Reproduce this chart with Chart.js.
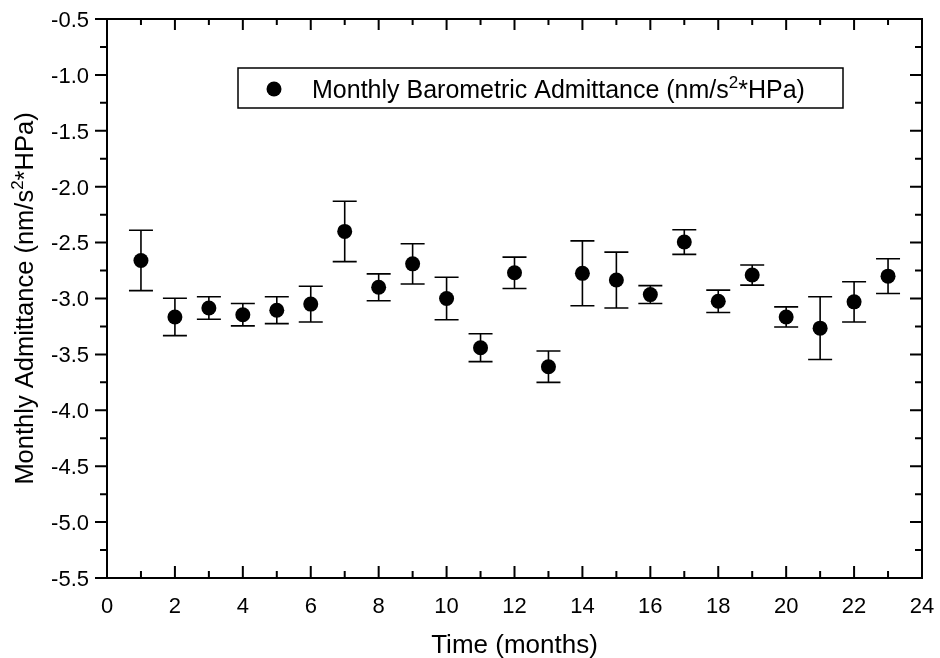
<!DOCTYPE html>
<html>
<head>
<meta charset="utf-8">
<title>Monthly Barometric Admittance</title>
<script src="https://cdn.jsdelivr.net/npm/chart.js@4.4.0/dist/chart.umd.min.js"></script>
<style>
  html, body { margin: 0; padding: 0; background: #fff; }
  #wrap { width: 940px; height: 658px; }
</style>
</head>
<body>
<div id="wrap"><canvas id="chart" width="940" height="658"></canvas></div>
<script>
  // --- data ---
  var months = [1, 2, 3, 4, 5, 6, 7, 8, 9, 10, 11, 12, 13, 14, 15, 16, 17, 18, 19, 20, 21, 22, 23];
  var admittance = [-2.66, -3.165, -3.085, -3.145, -3.105, -3.05, -2.40, -2.90, -2.69, -3.00, -3.44, -2.77,
                    -3.61, -2.775, -2.835, -2.965, -2.495, -3.025, -2.79, -3.165, -3.265, -3.03, -2.80];
  var errors = [0.27, 0.167, 0.10, 0.10, 0.12, 0.16, 0.27, 0.12, 0.18, 0.19, 0.125, 0.14,
                0.14, 0.29, 0.25, 0.08, 0.11, 0.10, 0.09, 0.09, 0.28, 0.18, 0.155];

  var xTicks = [0, 2, 4, 6, 8, 10, 12, 14, 16, 18, 20, 22, 24];
  var xMinorTicks = [1, 3, 5, 7, 9, 11, 13, 15, 17, 19, 21, 23];
  var yTicks = [-0.5, -1.0, -1.5, -2.0, -2.5, -3.0, -3.5, -4.0, -4.5, -5.0, -5.5];
  var yTickLabels = ['-0.5', '-1.0', '-1.5', '-2.0', '-2.5', '-3.0', '-3.5', '-4.0', '-4.5', '-5.0', '-5.5'];
  var yMinorTicks = [-0.75, -1.25, -1.75, -2.25, -2.75, -3.25, -3.75, -4.25, -4.75, -5.25];

  var xTitle = 'Time (months)';
  var yTitleParts = ['Monthly Admittance (nm/s', '2', '*HPa)'];
  var legendParts = ['Monthly Barometric Admittance (nm/s', '2', '*HPa)'];

  var FONT = '"Liberation Sans", Arial, Helvetica, sans-serif';
  var INK = '#000';

  // label centred on the caps at (x, y)
  function tickText(ctx, str, x, y, size, align) {
    ctx.font = size + 'px ' + FONT;
    ctx.textAlign = align;
    ctx.textBaseline = 'alphabetic';
    ctx.fillText(str, x, y + size * 0.358);
  }

  // text with a superscript middle part
  function superText(ctx, parts, x, y, size, align) {
    var supSize = Math.round(size * 0.66);
    var sizes = [size, supSize, size];
    var widths = [];
    var total = 0;
    parts.forEach(function (p, i) {
      ctx.font = sizes[i] + 'px ' + FONT;
      widths[i] = ctx.measureText(p).width;
      total += widths[i];
    });
    var cx = align === 'center' ? x - total / 2 : x;
    ctx.textAlign = 'left';
    ctx.textBaseline = 'alphabetic';
    parts.forEach(function (p, i) {
      ctx.font = sizes[i] + 'px ' + FONT;
      ctx.fillText(p, cx, i === 1 ? y - size * 0.4 : y);
      cx += widths[i];
    });
  }

  var errorBars = {
    id: 'errorBars',
    beforeDatasetsDraw: function (chart) {
      var ctx = chart.ctx;
      var xs = chart.scales.x, ys = chart.scales.y;
      ctx.save();
      ctx.strokeStyle = INK;
      ctx.lineWidth = 1.6;
      months.forEach(function (m, i) {
        var px = xs.getPixelForValue(m);
        var top = ys.getPixelForValue(admittance[i] + errors[i]);
        var bot = ys.getPixelForValue(admittance[i] - errors[i]);
        ctx.beginPath();
        ctx.moveTo(px, top); ctx.lineTo(px, bot);
        ctx.moveTo(px - 12, top); ctx.lineTo(px + 12, top);
        ctx.moveTo(px - 12, bot); ctx.lineTo(px + 12, bot);
        ctx.stroke();
      });
      ctx.restore();
    }
  };

  var frame = {
    id: 'frame',
    afterDraw: function (chart) {
      var ctx = chart.ctx;
      var a = chart.chartArea;
      var xs = chart.scales.x, ys = chart.scales.y;
      ctx.save();
      ctx.strokeStyle = INK;
      ctx.fillStyle = INK;

      // box around plot
      ctx.lineWidth = 2;
      ctx.strokeRect(a.left, a.top, a.right - a.left, a.bottom - a.top);

      // ticks: left outward, others inward
      ctx.beginPath();
      yTicks.forEach(function (v) {
        var py = ys.getPixelForValue(v);
        ctx.moveTo(a.left - 12, py); ctx.lineTo(a.left, py);
        ctx.moveTo(a.right, py); ctx.lineTo(a.right - 12, py);
      });
      yMinorTicks.forEach(function (v) {
        var py = ys.getPixelForValue(v);
        ctx.moveTo(a.left - 7, py); ctx.lineTo(a.left, py);
        ctx.moveTo(a.right, py); ctx.lineTo(a.right - 7, py);
      });
      xTicks.forEach(function (v) {
        var px = xs.getPixelForValue(v);
        ctx.moveTo(px, a.bottom); ctx.lineTo(px, a.bottom - 12);
        ctx.moveTo(px, a.top); ctx.lineTo(px, a.top + 11);
      });
      xMinorTicks.forEach(function (v) {
        var px = xs.getPixelForValue(v);
        ctx.moveTo(px, a.bottom); ctx.lineTo(px, a.bottom - 7);
        ctx.moveTo(px, a.top); ctx.lineTo(px, a.top + 6);
      });
      ctx.stroke();

      // tick labels
      yTicks.forEach(function (v, i) {
        tickText(ctx, yTickLabels[i], a.left - 18, ys.getPixelForValue(v), 22, 'right');
      });
      xTicks.forEach(function (v) {
        tickText(ctx, String(v), xs.getPixelForValue(v), a.bottom + 27, 22, 'center');
      });

      // axis titles
      ctx.font = '26px ' + FONT;
      ctx.textAlign = 'center';
      ctx.textBaseline = 'alphabetic';
      ctx.fillText(xTitle, (a.left + a.right) / 2, 653);

      ctx.save();
      ctx.translate(33, (a.top + a.bottom) / 2);
      ctx.rotate(-Math.PI / 2);
      superText(ctx, yTitleParts, 0, 0, 25.5, 'center');
      ctx.restore();

      // legend box
      ctx.lineWidth = 1.5;
      ctx.fillStyle = '#fff';
      ctx.fillRect(238, 68, 605, 40);
      ctx.strokeRect(238, 68, 605, 40);
      ctx.fillStyle = INK;
      ctx.beginPath();
      ctx.arc(274, 89, 7.5, 0, Math.PI * 2);
      ctx.fill();
      superText(ctx, legendParts, 312, 98, 25, 'left');

      ctx.restore();
    }
  };

  new Chart(document.getElementById('chart'), {
    type: 'scatter',
    data: {
      datasets: [{
        label: 'Monthly Barometric Admittance (nm/s²*HPa)',
        data: months.map(function (m, i) { return { x: m, y: admittance[i] }; }),
        backgroundColor: INK,
        borderColor: INK,
        borderWidth: 0,
        pointRadius: 7.5,
        pointHoverRadius: 7.5
      }]
    },
    options: {
      responsive: false,
      animation: false,
      devicePixelRatio: 1,
      layout: { padding: { left: 0, right: 18, top: 19, bottom: 0 } },
      plugins: {
        legend: { display: false },
        tooltip: { enabled: false }
      },
      scales: {
        x: {
          type: 'linear',
          min: 0, max: 24,
          grid: { display: false },
          border: { display: false },
          ticks: { display: false, stepSize: 2 },
          afterFit: function (s) { s.height = 80; }
        },
        y: {
          type: 'linear',
          min: -5.5, max: -0.5,
          grid: { display: false },
          border: { display: false },
          ticks: { display: false, stepSize: 0.5 },
          afterFit: function (s) { s.width = 107; }
        }
      }
    },
    plugins: [errorBars, frame]
  });
</script>
</body>
</html>
